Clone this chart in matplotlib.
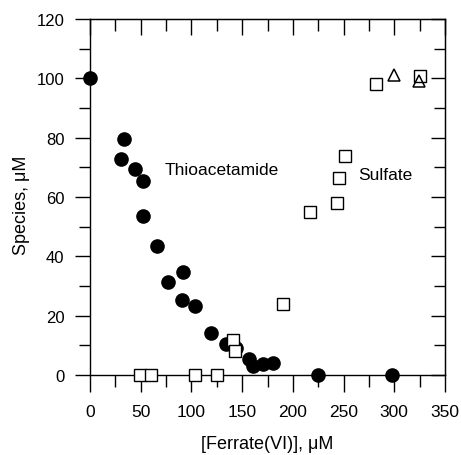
import matplotlib
matplotlib.use("Agg")
import matplotlib.pyplot as plt
from matplotlib.ticker import MultipleLocator

plt.rcParams['font.family'] = ['Liberation Sans', 'DejaVu Sans']

# Thioacetamide (filled circles)
thio_x = [0, 33.5, 30.9, 44.7, 52.6, 52.0, 65.7, 77.2, 92.0, 90.7, 103.8, 119.3,
          134.4, 143.6, 156.5, 160.4, 170.5, 180.0, 225.0, 297.5]
thio_y = [100, 79.5, 72.8, 69.4, 65.4, 53.7, 43.4, 31.5, 34.6, 25.3, 23.1, 14.0,
          10.4, 9.0, 5.4, 2.9, 3.7, 3.9, 0, 0]

# Sulfate (open squares)
sulf_x = [49.3, 59.8, 103.5, 125.5, 141.3, 143.0, 190.0, 216.9, 243.2, 245.2, 251.1, 282.0, 325.3]
sulf_y = [0, 0, 0, 0, 11.9, 8.2, 23.9, 54.8, 58.0, 66.4, 73.7, 98.1, 100.7]

# Open triangles
tri_x = [300.0, 324.4]
tri_y = [101.1, 99.0]

fig = plt.figure(figsize=(4.61, 4.56), dpi=100)
ax = fig.add_axes([90/461, 1-376/456, 355/461, 356/456])

ax.plot(thio_x, thio_y, 'o', color='black', markersize=9.5, clip_on=False, zorder=3)
ax.plot(sulf_x, sulf_y, 's', markerfacecolor='white', markeredgecolor='black',
        markersize=8, markeredgewidth=1.0, clip_on=False, zorder=4)
ax.plot(tri_x, tri_y, '^', markerfacecolor='none', markeredgecolor='black',
        markersize=8.5, markeredgewidth=1.1, clip_on=False, zorder=4)

ax.set_xlim(0, 350)
ax.set_ylim(0, 120)
ax.xaxis.set_major_locator(MultipleLocator(50))
ax.xaxis.set_minor_locator(MultipleLocator(25))
ax.yaxis.set_major_locator(MultipleLocator(20))
ax.yaxis.set_minor_locator(MultipleLocator(10))

for s in ax.spines.values():
    s.set_linewidth(1.0)

ax.tick_params(axis='x', which='major', direction='out', length=12, width=1.0,
               labelsize=12.5, pad=9, top=False)
ax.tick_params(axis='x', which='minor', direction='out', length=8.5, width=1.0, top=False)
ax.tick_params(axis='y', which='major', direction='out', length=10.5, width=1.0,
               labelsize=12, pad=8, right=False)
ax.tick_params(axis='y', which='minor', direction='out', length=8, width=1.0, right=False)

secx = ax.secondary_xaxis('top')
secx.xaxis.set_major_locator(MultipleLocator(50))
secx.xaxis.set_minor_locator(MultipleLocator(25))
secx.tick_params(which='major', direction='in', length=11.5, width=1.0, labeltop=False)
secx.tick_params(which='minor', direction='in', length=8.5, width=1.0)
secy = ax.secondary_yaxis('right')
secy.yaxis.set_major_locator(MultipleLocator(20))
secy.yaxis.set_minor_locator(MultipleLocator(10))
secy.tick_params(which='major', direction='in', length=10, width=1.0, labelright=False)
secy.tick_params(which='minor', direction='in', length=8, width=1.0)

ax.set_xlabel('[Ferrate(VI)], μM', fontsize=13, labelpad=11.5)
ax.set_ylabel('Species, μM', fontsize=13)
ax.yaxis.set_label_coords(-0.17, 0.48)

ax.text(74, 69.4, 'Thioacetamide', fontsize=12.5, va='center', ha='left')
ax.text(264, 67.7, 'Sulfate', fontsize=12.5, va='center', ha='left')

fig.savefig('out.png', dpi=100)
